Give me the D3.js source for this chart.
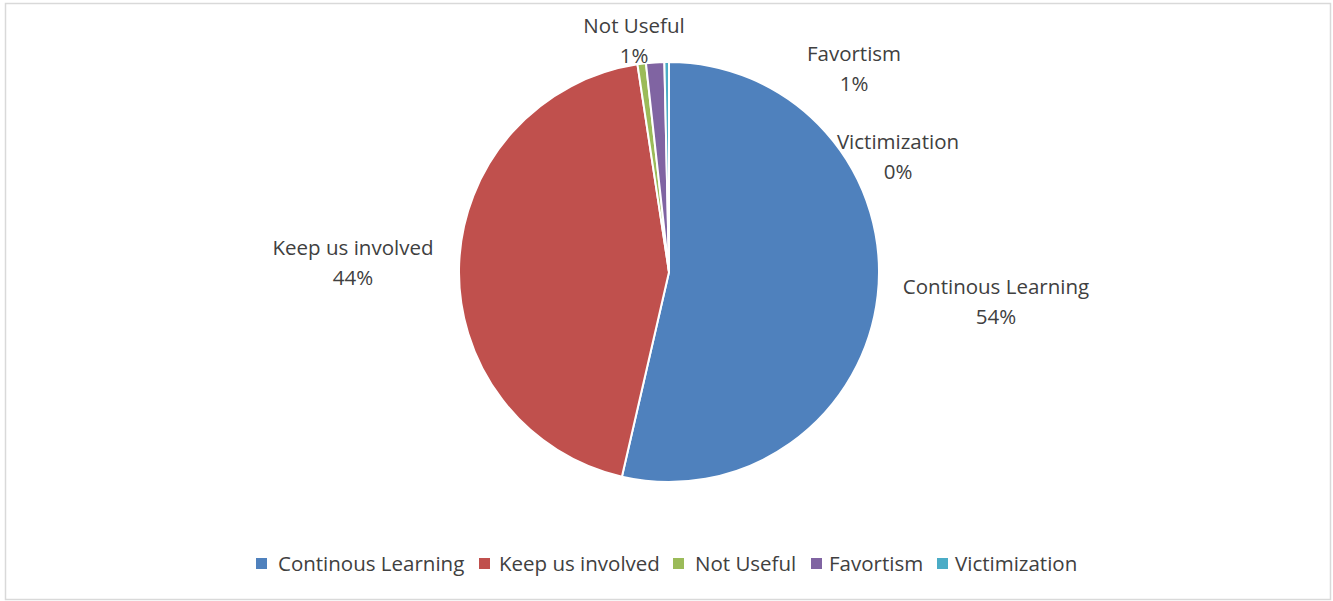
<!DOCTYPE html>
<html><head><meta charset="utf-8">
<script src="https://cdn.jsdelivr.net/npm/d3@7"></script>
<style>body{margin:0;background:#fff;}svg{display:block;}</style>
</head><body>
<svg id="c" width="1333" height="601"></svg>
<script>
const categories = ["Continous Learning","Keep us involved","Not Useful","Favortism","Victimization"];
const values = [53.6, 44.0, 0.65, 1.4, 0.35];
const percentLabels = ["54%","44%","1%","1%","0%"];
const colors = ["#4f81bd","#c0504d","#9bbb59","#8064a2","#4bacc6"];

const svg = d3.select("#c");
const font = "'Open Sans', sans-serif";
svg.append("rect").attr("x",5.5).attr("y",3.5).attr("width",1325).attr("height",596)
  .attr("fill","#fff").attr("stroke","#d9d9d9").attr("stroke-width",1.5);

const cx = 669, cy = 272, r = 210;
const pie = d3.pie().sort(null).value(d=>d)(values);
const arc = d3.arc().innerRadius(0).outerRadius(r);
const g = svg.append("g").attr("transform",`translate(${cx},${cy})`);
g.selectAll("path").data(pie).join("path")
  .attr("d",arc).attr("fill",(d,i)=>colors[i])
  .attr("stroke","#fff").attr("stroke-width",2).attr("stroke-linejoin","round");

// data label positions (absolute centers)
const labelPos = [[996,287],[353,248],[634,26],[854,54],[898,142]];
const lg = svg.append("g").attr("font-family",font).attr("font-size",20.5).attr("fill","#404040").attr("text-anchor","middle");
categories.forEach((c,i)=>{
  const t = lg.append("text").attr("x",labelPos[i][0]).attr("y",labelPos[i][1]+7);
  t.append("tspan").attr("x",labelPos[i][0]).text(c);
  t.append("tspan").attr("x",labelPos[i][0]).attr("dy",29.5).text(percentLabels[i]);
});

// legend
const legSq = [256,479,673,811,937];
const legTx = [278,499,695,829,955];
const leg = svg.append("g").attr("font-family",font).attr("font-size",20.5).attr("fill","#404040");
categories.forEach((c,i)=>{
  leg.append("rect").attr("x",legSq[i]).attr("y",558).attr("width",11).attr("height",11).attr("fill",colors[i]);
  leg.append("text").attr("x",legTx[i]).attr("y",571).text(c);
});
</script>
</body></html>
